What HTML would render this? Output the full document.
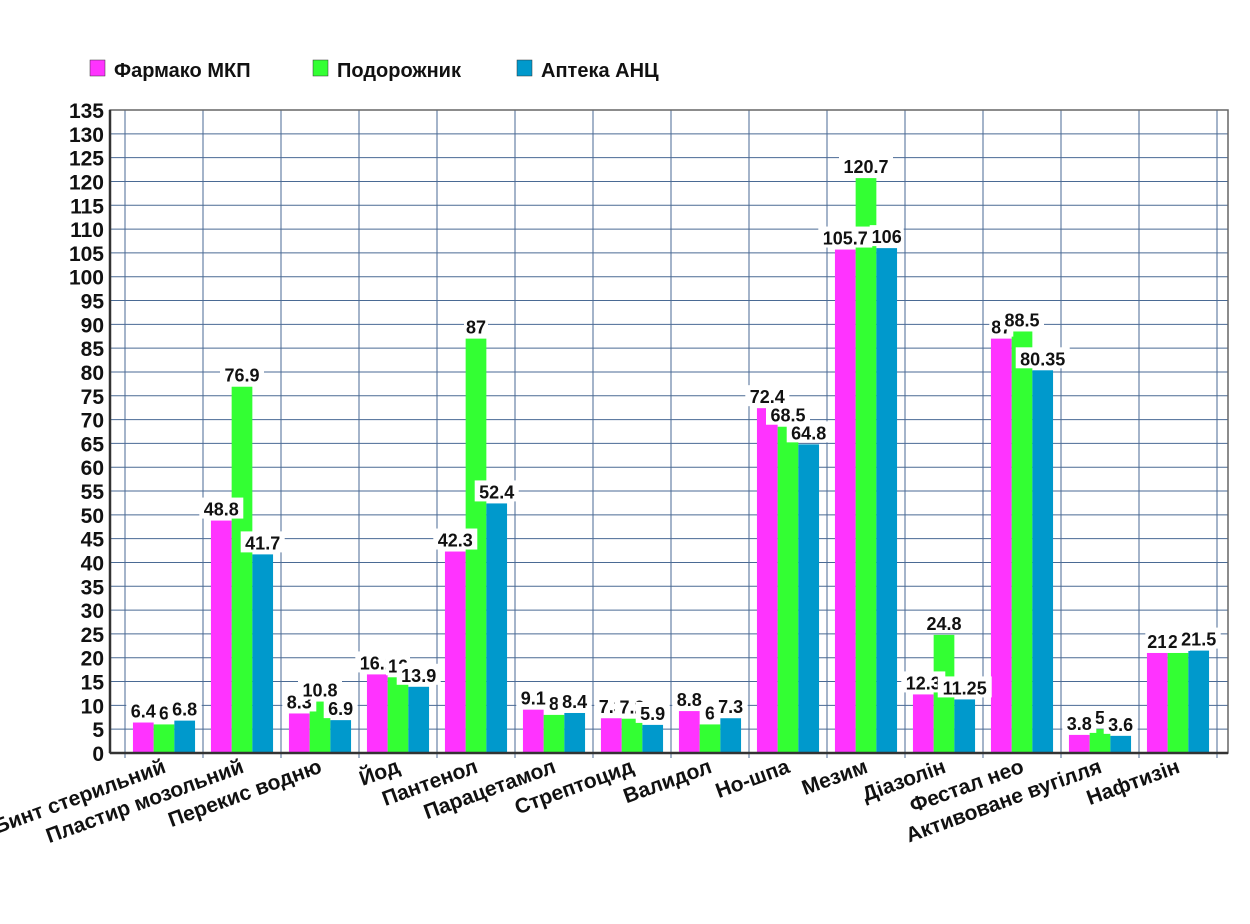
<!DOCTYPE html>
<html><head><meta charset="utf-8"><style>
body{margin:0;background:#fff;}
text{font-family:"Liberation Sans",sans-serif;font-weight:bold;}
</style></head><body>
<svg id="chart" width="1250" height="919" xmlns="http://www.w3.org/2000/svg">
<g id="legend"></g>
<g id="grid"></g>
<g id="bars"></g>
<g id="labels"></g>
<g id="axes"></g>
</svg>
<script>
const categories=["Бинт стерильний","Пластир мозольний","Перекис водню","Йод","Пантенол","Парацетамол","Стрептоцид","Валидол","Но-шпа","Мезим","Діазолін","Фестал нео","Активоване вугілля","Нафтизін"];
const seriesNames=["Фармако МКП","Подорожник","Аптека АНЦ"];
const farmako=[6.4,48.8,8.3,16.5,42.3,9.1,7.3,8.8,72.4,105.7,12.3,87,3.8,21];
const podorozhnyk=[6,76.9,10.8,15.9,87,8,7.2,6,68.5,120.7,24.8,88.5,5,21];
const apteka=[6.8,41.7,6.9,13.9,52.4,8.4,5.9,7.3,64.8,106,11.25,80.35,3.6,21.5];
const farmakoLabels=["6.4","48.8","8.3","16.1","42.3","9.1","7.3","8.8","72.4","105.7","12.3","87","3.8","21"];
const podorozhnykLabels=["6","76.9","10.8","16","87","8","7.2","6","68.5","120.7","24.8","88.5","5","21"];
const aptekaLabels=["6.8","41.7","6.9","13.9","52.4","8.4","5.9","7.3","64.8","106","11.25","80.35","3.6","21.5"];
const yTicks=[0,5,10,15,20,25,30,35,40,45,50,55,60,65,70,75,80,85,90,95,100,105,110,115,120,125,130,135];
const colors=["#ff33ff","#33ff33","#0099cc"];
const NS="http://www.w3.org/2000/svg";
const X0=110,X1=1228,Y0=753,Y1=110,YMAX=135;
const step=78,firstCenter=164,barW=20.7;
function y(v){return Y0-(v/YMAX)*(Y0-Y1);}
function cx(i){return firstCenter+i*step;}
function mk(tag,attrs,parent){const e=document.createElementNS(NS,tag);for(const k in attrs)e.setAttribute(k,attrs[k]);parent.appendChild(e);return e;}
const grid=document.getElementById('grid'),bars=document.getElementById('bars'),labels=document.getElementById('labels'),axes=document.getElementById('axes'),legend=document.getElementById('legend');
yTicks.forEach(t=>{
 const l=mk('line',{x1:X0,x2:X1,y1:y(t),y2:y(t),stroke:'#4a6a94','stroke-width':1},grid);
 
 
 const tx=mk('text',{x:X0-6,y:y(t)+8,'text-anchor':'end','font-size':21,fill:'#111'},axes);
 tx.textContent=t;
 
 
});
for(let k=0;k<=14;k++){
 const gx=125+k*step;
 if(gx>X1)break;
 const l=mk('line',{x1:gx,x2:gx,y1:Y1,y2:Y0+5,stroke:'#4a6a94','stroke-width':1},grid);
 
 
}
mk('rect',{x:X0,y:Y1,width:X1-X0,height:Y0-Y1,fill:'none',stroke:'#666','stroke-width':1.5},axes);
const ax=mk('line',{x1:X0,x2:X0,y1:Y1,y2:Y0,stroke:'#333','stroke-width':2.5},axes);


const bx=mk('line',{x1:X0,x2:X1,y1:Y0,y2:Y0,stroke:'#333','stroke-width':2.5},axes);


const series=[farmako,podorozhnyk,apteka];
const slabels=[farmakoLabels,podorozhnykLabels,aptekaLabels];
categories.forEach((c,i)=>{
 series.forEach((s,j)=>{
  const bxp=cx(i)-1.5*barW+j*barW;
  const r=mk('rect',{x:bxp,y:y(s[i]),width:barW,height:Y0-y(s[i]),fill:colors[j]},bars);
  
  
 });
 series.forEach((s,j)=>{
  const mx=cx(i)-barW+j*barW;
  const t=slabels[j][i];
  const w=t.length*10+4;
  mk('rect',{x:mx-w/2,y:y(s[i])-23,width:w,height:21,fill:'#fff'},labels);
  const tx=mk('text',{x:mx,y:y(s[i])-5,'text-anchor':'middle','font-size':18,fill:'#111'},labels);
  tx.textContent=t;
  
  
 });
 const ex=cx(i)+3,ey=772;
 const lt=mk('text',{x:ex,y:ey,'text-anchor':'end','font-size':21,fill:'#111',transform:`rotate(-20 ${ex} ${ey})`},axes);
 lt.textContent=c;
 
 
});
const lx=[90,313,517];
seriesNames.forEach((n,j)=>{
 const r=mk('rect',{x:lx[j],y:60,width:15,height:16,fill:colors[j],stroke:'#333','stroke-width':0.5},legend);
 
 
 const t=mk('text',{x:lx[j]+24,y:77,'font-size':20,fill:'#111'},legend);
 t.textContent=n;
 
 
});
</script>
</body></html>
